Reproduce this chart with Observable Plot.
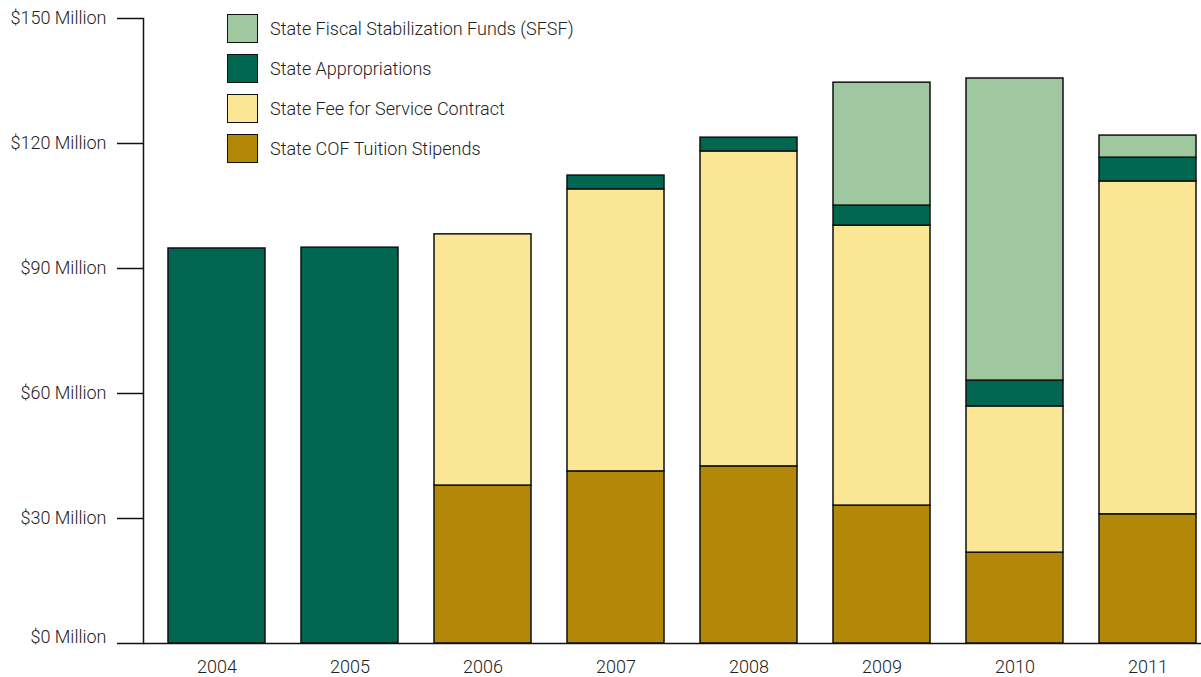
<!DOCTYPE html>
<html>
<head>
<meta charset="utf-8">
<script src="https://cdn.jsdelivr.net/npm/d3@7"></script>
<script src="https://cdn.jsdelivr.net/npm/@observablehq/plot@0.6"></script>
<style>
  html, body { margin: 0; padding: 0; background: #fff; }
  #wrap { position: relative; width: 1201px; height: 677px; font-family: Roboto, "Liberation Sans", sans-serif; font-weight: 300; }
  #legend { position: absolute; left: 227px; top: 14px; }
  .item { display: flex; align-items: center; height: 29px; margin-bottom: 11px; font-size: 18px; color: #222; }
  .sw { border: 1.5px solid #111; margin-right: 12px; box-sizing: border-box; width: 31px; height: 29px; }
</style>
</head>
<body>
<div id="wrap"><div id="chart"></div><div id="legend"></div></div>
<script>
const years = ["2004", "2005", "2006", "2007", "2008", "2009", "2010", "2011"];
const seriesNames = ["State COF Tuition Stipends", "State Fee for Service Contract", "State Appropriations", "State Fiscal Stabilization Funds (SFSF)"];
const seriesColors = ["#b38808", "#fbe696", "#00664f", "#a0c8a0"];
const legendOrder = ["State Fiscal Stabilization Funds (SFSF)", "State Appropriations", "State Fee for Service Contract", "State COF Tuition Stipends"];
// values in $ millions
const cofStipends   = [0, 0, 37.9, 41.3, 42.5, 33.1, 21.8, 31.0];
const feeForService = [0, 0, 60.3, 67.7, 75.6, 67.2, 35.1, 79.9];
const appropriations= [94.8, 95.0, 0, 3.3, 3.3, 4.8, 6.2, 5.7];
const sfsf          = [0, 0, 0, 0, 0, 29.5, 72.5, 5.3];
const yTicks = [0, 30, 60, 90, 120, 150];

const seriesValues = [cofStipends, feeForService, appropriations, sfsf];
const data = [];
years.forEach((y, i) => {
  seriesNames.forEach((s, j) => {
    const v = seriesValues[j][i];
    if (v > 0) data.push({year: y, series: s, value: v});
  });
});

const fmt = d => `$${d} Million`;
const chart = Plot.plot({
  width: 1201,
  height: 677,
  marginLeft: 143,
  marginRight: 0,
  marginTop: 18,
  marginBottom: 34,
  style: {fontFamily: "Roboto, 'Liberation Sans', sans-serif", fontSize: "18px", fontWeight: 300, color: "#222", background: "#fff"},
  x: {domain: years, range: [143, 1222], padding: 0.27, paddingOuter: 0.187, label: null},
  y: {domain: [0, 150], label: null},
  color: {domain: seriesNames, range: seriesColors},
  marks: [
    Plot.barY(data, Plot.stackY({order: seriesNames}, {x: "year", y: "value", z: "series", fill: "series", stroke: "#111", strokeWidth: 1.5})),
    Plot.frame({anchor: "left", stroke: "#111", strokeWidth: 1.5}),
    Plot.ruleY([0], {stroke: "#111", strokeWidth: 1.5}),
    Plot.axisY(yTicks.filter(d => d > 0), {anchor: "left", tickSize: 26, tickPadding: 11, tickFormat: fmt, stroke: "#111", strokeWidth: 1.5, fill: "#222"}),
    Plot.axisY(yTicks.filter(d => d === 0), {anchor: "left", tickSize: 26, tickFormat: () => "", stroke: "#111", strokeWidth: 1.5}),
    Plot.axisY(yTicks.filter(d => d === 0), {anchor: "left", tickSize: 26, tickPadding: 11, dy: -6, tickFormat: fmt, stroke: "none", fill: "#222"}),
    Plot.axisX({anchor: "bottom", tickSize: 0, tickPadding: 17, fill: "#222"})
  ]
});
document.getElementById("chart").appendChild(chart);

const legend = document.getElementById("legend");
legendOrder.forEach(name => {
  const idx = seriesNames.indexOf(name);
  const item = document.createElement("div");
  item.className = "item";
  const sw = document.createElement("div");
  sw.className = "sw";
  sw.style.background = seriesColors[idx];
  const label = document.createElement("span");
  label.textContent = name;
  item.appendChild(sw);
  item.appendChild(label);
  legend.appendChild(item);
});
</script>
</body>
</html>
